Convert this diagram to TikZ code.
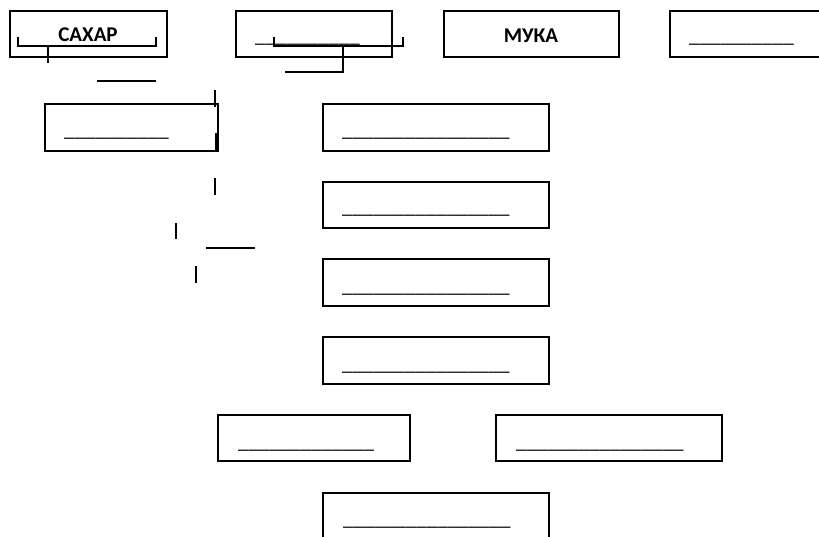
\documentclass[tikz,border=0pt]{standalone}
\usepackage{fontspec}
\setmainfont{Carlito}
\begin{document}
\begin{tikzpicture}[x=1pt,y=-1pt,
  box/.style={draw, line width=2pt, inner sep=0pt, minimum height=46pt},
  blank/.style={anchor=base west, inner sep=0pt, font=\fontsize{21}{25}\selectfont},
  title/.style={inner sep=0pt, font=\fontsize{21}{25}\selectfont\bfseries},
  stroke/.style={line width=2pt}]
\useasboundingbox (0,0) rectangle (819,536);
\clip (0,0) rectangle (819,536);
% top row
\node[box, minimum width=157pt] (b1) at (88.5,34) {};
\node[box, minimum width=156pt] (b2) at (314,34) {};
\node[box, minimum width=175pt] (b3) at (531.5,34) {};
\node[box, minimum width=157pt] (b4) at (748.5,34) {};
\node[title] (t1) at (88,35) {САХАР};
\node[title] (t3) at (531,35.5) {МУКА};
\node[blank] (u2) at (255,42) {\_\_\_\_\_\_\_\_\_\_};
\node[blank] (u4) at (689,42) {\_\_\_\_\_\_\_\_\_\_};
% left box
\node[box, minimum width=173pt, minimum height=47pt] (b5) at (131.5,127.5) {};
\node[blank] (u5) at (64,136.5) {\_\_\_\_\_\_\_\_\_\_};
% middle column
\node[box, minimum width=226pt, minimum height=47pt] (m1) at (436,127.5) {};
\node[box, minimum width=226pt] (m2) at (436,205) {};
\node[box, minimum width=226pt, minimum height=47pt] (m3) at (436,282.5) {};
\node[box, minimum width=226pt, minimum height=47pt] (m4) at (436,360.5) {};
\node[blank] (um1) at (342,136.5) {\_\_\_\_\_\_\_\_\_\_\_\_\_\_\_\_};
\node[blank] (um2) at (342,213.5) {\_\_\_\_\_\_\_\_\_\_\_\_\_\_\_\_};
\node[blank] (um3) at (342,292.5) {\_\_\_\_\_\_\_\_\_\_\_\_\_\_\_\_};
\node[blank] (um4) at (342,370.5) {\_\_\_\_\_\_\_\_\_\_\_\_\_\_\_\_};
% lower rows
\node[box, minimum width=192pt] (bl) at (314,438) {};
\node[box, minimum width=226pt] (br) at (609,438) {};
\node[box, minimum width=226pt] (bb) at (436,516) {};
\node[blank] (ul) at (238,448.5) {\_\_\_\_\_\_\_\_\_\_\_\_\_};
\node[blank] (ur) at (516,448.5) {\_\_\_\_\_\_\_\_\_\_\_\_\_\_\_\_};
\node[blank] (ub) at (343,525.5) {\_\_\_\_\_\_\_\_\_\_\_\_\_\_\_\_};
% loose strokes
\draw[stroke] (18,37) -- (18,46) -- (156,46) -- (156,37);
\draw[stroke] (48,46) -- (48,63);
\draw[stroke] (274,37) -- (274,46) -- (403,46) -- (403,37);
\draw[stroke] (343,46) -- (343,72) -- (285,72);
\draw[stroke] (97,81) -- (156,81);
\draw[stroke] (215,90) -- (215,107);
\draw[stroke] (216,133) -- (216,151);
\draw[stroke] (215,178) -- (215,195);
\draw[stroke] (176,223) -- (176,239);
\draw[stroke] (206,248) -- (255,248);
\draw[stroke] (196,266) -- (196,283);
\end{tikzpicture}
\end{document}
